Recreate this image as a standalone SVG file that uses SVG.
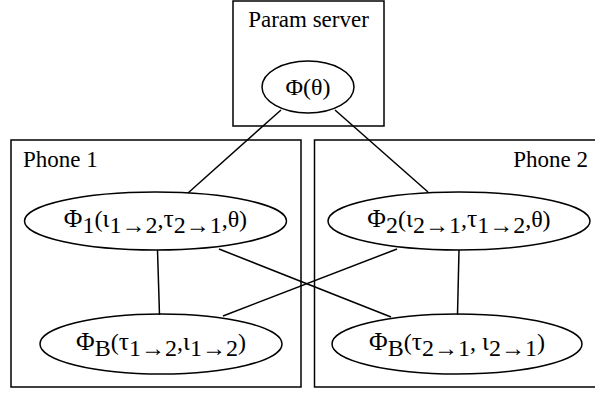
<svg xmlns="http://www.w3.org/2000/svg" width="595" height="394" viewBox="0 0 595 394">
<style>
.box{fill:none;stroke:#000;stroke-width:1.5}
.node ellipse{fill:none;stroke:#000;stroke-width:1.5}
.edge line{stroke:#000;stroke-width:1.5}
text{font-family:"Liberation Serif","Times New Roman",serif;font-size:23px;fill:#000}
.lbl{text-anchor:middle}
.n{font-size:24px}
.g{font-size:25.5px}
</style>
<rect width="595" height="394" fill="#fff"/>
<g id="cluster_server"><rect class="box" x="233" y="1" width="151" height="125"/><text class="lbl" x="308.5" y="27">Param server</text></g>
<g id="cluster_phone1"><rect class="box" x="11" y="140" width="290" height="247"/><text x="23" y="167">Phone 1</text></g>
<g id="cluster_phone2"><rect class="box" x="314.5" y="140" width="290" height="247"/><text x="588" y="167" text-anchor="end">Phone 2</text></g>
<g class="edge" id="edges">
<line x1="281" y1="110" x2="188" y2="193"/>
<line x1="335" y1="110" x2="428" y2="192"/>
<line x1="157.5" y1="250" x2="159.5" y2="315"/>
<line x1="459" y1="250" x2="457.5" y2="315"/>
<line x1="219" y1="249" x2="391" y2="317"/>
<line x1="397" y1="249" x2="223" y2="316"/>
</g>
<g class="node" id="phi"><ellipse cx="308" cy="87" rx="46" ry="26"/><text class="lbl n" x="308" y="95">Φ(θ)</text></g>
<g class="node" id="phi1"><ellipse cx="155.5" cy="221" rx="131" ry="29"/><text class="lbl n" x="155.5" y="227"><tspan class="g">Φ</tspan><tspan dy="6">1</tspan><tspan dy="-6">(</tspan><tspan class="g">ι</tspan><tspan dy="6">1→2</tspan><tspan dy="-6">,</tspan><tspan class="g">τ</tspan><tspan dy="6">2→1</tspan><tspan dy="-6">,θ)</tspan></text></g>
<g class="node" id="phi2"><ellipse cx="459" cy="221" rx="131" ry="29"/><text class="lbl n" x="459" y="227"><tspan class="g">Φ</tspan><tspan dy="6">2</tspan><tspan dy="-6">(</tspan><tspan class="g">ι</tspan><tspan dy="6">2→1</tspan><tspan dy="-6">,</tspan><tspan class="g">τ</tspan><tspan dy="6">1→2</tspan><tspan dy="-6">,θ)</tspan></text></g>
<g class="node" id="phiB1"><ellipse cx="161" cy="344" rx="121" ry="30"/><text class="lbl n" x="161" y="350"><tspan class="g">Φ</tspan><tspan dy="6">B</tspan><tspan dy="-6">(</tspan><tspan class="g">τ</tspan><tspan dy="6">1→2</tspan><tspan dy="-6">,</tspan><tspan class="g">ι</tspan><tspan dy="6">1→2</tspan><tspan dy="-6">)</tspan></text></g>
<g class="node" id="phiB2"><ellipse cx="457" cy="344" rx="125" ry="30"/><text class="lbl n" x="457" y="350"><tspan class="g">Φ</tspan><tspan dy="6">B</tspan><tspan dy="-6">(</tspan><tspan class="g">τ</tspan><tspan dy="6">2→1</tspan><tspan dy="-6">, </tspan><tspan class="g">ι</tspan><tspan dy="6">2→1</tspan><tspan dy="-6">)</tspan></text></g>
</svg>
